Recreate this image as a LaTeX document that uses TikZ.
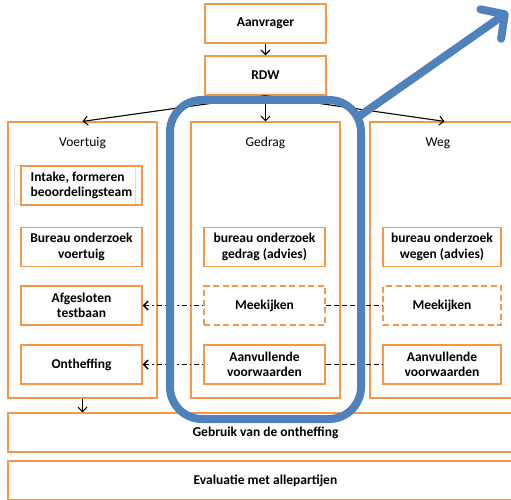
\documentclass[tikz,border=0pt]{standalone}
\usepackage{fontspec}
\setmainfont{Carlito}
\usepackage{xcolor}
\usetikzlibrary{positioning, arrows, arrows.meta}
\definecolor{boxorange}{HTML}{F79646}
\definecolor{markblue}{HTML}{4F81BD}

\tikzset{
  box/.style={draw=boxorange, line width=1.4pt, minimum width=121pt, minimum height=39pt,
    inner sep=2pt, align=center, font=\fontsize{13.5}{15.5}\selectfont\bfseries},
  dashbox/.style={box, dash pattern=on 6pt off 3.5pt},
  column/.style={draw=boxorange, line width=1.2pt, minimum width=149pt, minimum height=276pt},
  bar/.style={draw=boxorange, line width=1.2pt, minimum width=515pt, minimum height=39pt,
    font=\fontsize{13.5}{15.5}\selectfont\bfseries},
  head/.style={font=\fontsize{13.5}{15.5}\selectfont},
  flow/.style={-{Straight Barb[length=4.5pt,width=9pt]}, line width=1.1pt},
  linkarrow/.style={{Straight Barb[length=4.5pt,width=9pt]}-, line width=1.4pt,
    dash pattern=on 5pt off 3pt on 1.5pt off 3pt},
  link/.style={line width=1.4pt, dash pattern=on 5pt off 3pt},
  marker/.style={draw=markblue, line width=8pt}
}

\begin{document}
\begin{tikzpicture}[x=1pt,y=-1pt]
\useasboundingbox (0,0) rectangle (511,500);
\clip (0,0) rectangle (511,500);
\fill[white] (0,0) rectangle (511,500);

% top of the chain
\node[box] (aanvrager) at (265.5,23.5) {Aanvrager};
\node[box] (rdw) at (265.5,75.5) {RDW};

% the three columns
\node[column] (voertuig) at (82.5,260) {};
\node[column] (gedrag) at (265.5,260) {};
\node[column] (weg) at (444.5,260) {};
\node[head] (voertuigkop) at (82.5,143) {Voertuig};
\node[head] (gedragkop) at (265.5,143) {Gedrag};
\node[head] (wegkop) at (438,143) {Weg};

% Voertuig
\draw[gray!25, line width=0.6pt] (14,165) rectangle (135,204);
\node[box, align=left] (intake) at (81.5,185.5) {Intake, formeren\\beoordelingsteam};
\node[box] (bureauvoertuig) at (81.5,247) {Bureau onderzoek\\voertuig};
\node[box] (testbaan) at (81.5,305.5) {Afgesloten\\testbaan};
\node[box] (ontheffing) at (81.5,364.5) {Ontheffing};

% Gedrag
\node[box] (bureaugedrag) at (264.5,247) {bureau onderzoek\\gedrag (advies)};
\node[dashbox] (meekijkengedrag) at (264.5,305.5) {Meekijken};
\node[box] (voorwaardengedrag) at (264.5,364.5) {Aanvullende\\voorwaarden};

% Weg
\node[box, minimum width=118pt] (bureauweg) at (442,247) {bureau onderzoek\\wegen (advies)};
\node[dashbox, minimum width=118pt] (meekijkenweg) at (442,305.5) {Meekijken};
\node[box, minimum width=118pt] (voorwaardenweg) at (442,364.5) {Aanvullende\\voorwaarden};

% bottom bars
\node[bar] (gebruik) at (265.5,432.5) {Gebruik van de ontheffing};
\node[bar] (evaluatie) at (265.5,480.5) {Evaluatie met allepartijen};

\draw[flow] (aanvrager) -- (rdw);
\draw[flow] (rdw.south) -- (voertuig.north);
\draw[flow] (rdw.south) -- (gedrag.north);
\draw[flow] (rdw.south) -- (weg.north);
\draw[flow] (voertuig.south) -- (voertuig.south |- gebruik.north);

\draw[linkarrow] (testbaan.east) -- (meekijkengedrag.west);
\draw[linkarrow] (ontheffing.east) -- (voorwaardengedrag.west);
\draw[link] (meekijkengedrag.east) -- (meekijkenweg.west);
\draw[link] (voorwaardengedrag.east) -- (voorwaardenweg.west);

% blue marking on top
\coordinate (bluestart) at (358,117);
\coordinate (bluetip) at (508,12);
\draw[marker, rounded corners=32pt] (170,100) rectangle (361,419);
\draw[marker, line cap=round, -{Straight Barb[length=17pt,width=36pt,round]}] (bluestart) -- (bluetip);
\end{tikzpicture}
\end{document}
